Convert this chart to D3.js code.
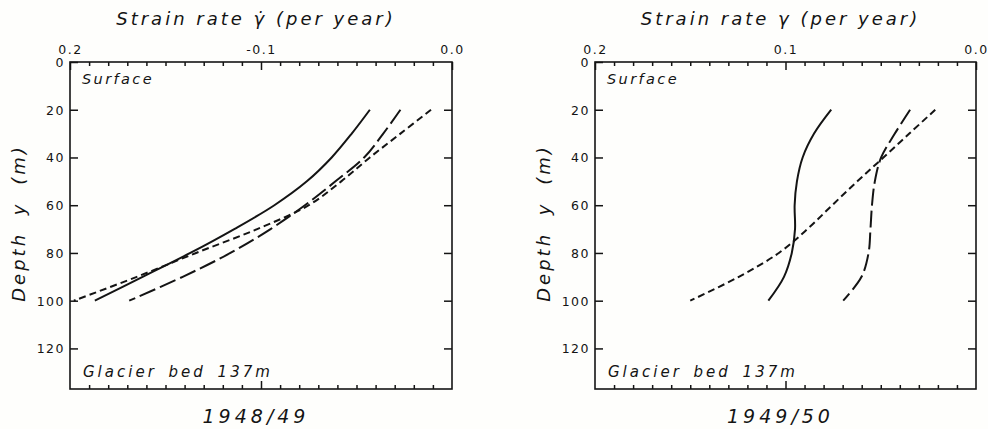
<!DOCTYPE html>
<html>
<head>
<meta charset="utf-8">
<script src="https://cdn.jsdelivr.net/npm/d3@7"></script>
<style>
body { margin: 0; background: #fefefc; }
svg text { font-family: "DejaVu Sans", sans-serif; fill: #141414; }
</style>
</head>
<body>
<svg id="chart" width="988" height="429"></svg>
<script>
var depths = [20, 30, 40, 50, 60, 70, 80, 90, 100];

// 1948/49 strain rates (per year)
var solid4849     = [-0.043, -0.0525, -0.063, -0.076, -0.093, -0.114, -0.137, -0.162, -0.187];
var longDash4849  = [-0.027, -0.036, -0.046, -0.061, -0.077, -0.095, -0.116, -0.141, -0.169];
var shortDash4849 = [-0.011, -0.027, -0.043, -0.058, -0.075, -0.102, -0.134, -0.165, -0.198];

// 1949/50 strain rates (per year)
var solid4950     = [0.076, 0.085, 0.091, 0.094, 0.0952, 0.0950, 0.0967, 0.1008, 0.109];
var longDash4950  = [0.0346, 0.0426, 0.0498, 0.0531, 0.0546, 0.0554, 0.0564, 0.0601, 0.0697];
var shortDash4950 = [0.0214, 0.035, 0.0486, 0.0623, 0.0755, 0.0885, 0.1035, 0.1245, 0.150];

var depthTicks = [0, 20, 40, 60, 80, 100, 120];
var majorTicks4849 = [-0.2, -0.1, 0.0];
var majorTicks4950 = [0.2, 0.1, 0.0];
var tickLabels4849 = ["0.2", "-0.1", "0.0"];
var tickLabels4950 = ["0.2", "0.1", "0.0"];
var titles = ["Strain rate \u03b3\u0307 (per year)", "Strain rate \u03b3 (per year)"];
var years = ["1948/49", "1949/50"];

var dashes = [null, "17,5", "7,4"];

var panels = [
  { x0: 70, x1: 452, domain: [-0.2, 0], major: majorTicks4849, labels: tickLabels4849,
    series: [solid4849, longDash4849, shortDash4849], title: titles[0], year: years[0] },
  { x0: 595, x1: 976, domain: [0.2, 0], major: majorTicks4950, labels: tickLabels4950,
    series: [solid4950, longDash4950, shortDash4950], title: titles[1], year: years[1] }
];

var frameTop = 62, frameBottom = 389;
var svg = d3.select("#chart");

var y = d3.scaleLinear().domain([0, 137]).range([frameTop, frameBottom]);

panels.forEach(function(p) {
  var x = d3.scaleLinear().domain(p.domain).range([p.x0, p.x1]);
  var g = svg.append("g");

  // minor ticks every 0.01, skipping the ends and the middle major tick
  var minor = d3.range(1, 20).filter(function(i) { return i != 10; })
    .map(function(i) { return p.domain[0] + (p.domain[1] - p.domain[0]) * i / 20; });

  var topMinor = g.append("g").attr("transform", "translate(0," + frameTop + ")")
    .call(d3.axisTop(x).tickValues(minor).tickSizeInner(-4).tickSizeOuter(0).tickFormat(""));
  var topMajor = g.append("g").attr("transform", "translate(0," + frameTop + ")")
    .call(d3.axisTop(x).tickValues(p.major).tickSizeInner(-8).tickSizeOuter(0).tickPadding(8)
      .tickFormat(function(d, i) { return p.labels[i]; }));
  var botMinor = g.append("g").attr("transform", "translate(0," + frameBottom + ")")
    .call(d3.axisBottom(x).tickValues(minor).tickSizeInner(-4).tickSizeOuter(0).tickFormat(""));
  var botMajor = g.append("g").attr("transform", "translate(0," + frameBottom + ")")
    .call(d3.axisBottom(x).tickValues([p.major[1]]).tickSizeInner(-8).tickSizeOuter(0).tickFormat(""));

  var left = g.append("g").attr("transform", "translate(" + p.x0 + ",0)")
    .call(d3.axisLeft(y).tickValues(depthTicks).tickSizeInner(-8).tickSizeOuter(0).tickPadding(5));
  var right = g.append("g").attr("transform", "translate(" + p.x1 + ",0)")
    .call(d3.axisRight(y).tickValues(depthTicks.slice(1)).tickSizeInner(-8).tickSizeOuter(0).tickFormat(""));

  [topMinor, topMajor, botMinor, botMajor, left, right].forEach(function(a) {
    a.select(".domain").remove();
    a.selectAll(".tick line").attr("stroke", "#141414").attr("stroke-width", 1.5);
    a.selectAll("text").style("font-size", "12.5px").style("letter-spacing", "1.5px")
      .style("font-family", "\"DejaVu Sans\", sans-serif").attr("fill", "#141414");
  });
  topMajor.selectAll("text").attr("dy", "0em");
  left.selectAll("text").attr("dy", "0.36em");

  // frame
  g.append("rect")
    .attr("x", p.x0).attr("y", frameTop)
    .attr("width", p.x1 - p.x0).attr("height", frameBottom - frameTop)
    .attr("fill", "none").attr("stroke", "#141414").attr("stroke-width", 1.6);

  var line = d3.line()
    .x(function(d) { return x(d[1]); })
    .y(function(d) { return y(d[0]); })
    .curve(d3.curveCatmullRom.alpha(0.5));

  p.series.forEach(function(vals, i) {
    g.append("path")
      .datum(depths.map(function(d, j) { return [d, vals[j]]; }))
      .attr("d", line)
      .attr("fill", "none")
      .attr("stroke", "#141414")
      .attr("stroke-width", 2)
      .attr("stroke-dasharray", dashes[i]);
  });

  var cx = (p.x0 + p.x1) / 2;
  g.append("text").attr("x", cx - 5).attr("y", 25)
    .attr("text-anchor", "middle").style("font-style", "italic")
    .style("font-size", "18px").style("letter-spacing", "3px")
    .text(p.title);

  g.append("text").attr("x", cx - 5).attr("y", 423)
    .attr("text-anchor", "middle").style("font-style", "italic")
    .style("font-size", "19px").style("letter-spacing", "4px")
    .text(p.year);

  g.append("text").attr("x", p.x0 + 12).attr("y", 84)
    .style("font-style", "italic").style("font-size", "14.5px").style("letter-spacing", "2.4px")
    .text("Surface");

  g.append("text").attr("x", p.x0 + 13).attr("y", 377)
    .style("font-style", "italic").style("font-size", "15px").style("letter-spacing", "3px")
    .style("word-spacing", "4px")
    .text("Glacier bed 137m");

  g.append("text")
    .attr("transform", "translate(" + (p.x0 - 45) + ",223) rotate(-90)")
    .attr("text-anchor", "middle").style("font-style", "italic")
    .style("font-size", "18px").style("letter-spacing", "3px").style("word-spacing", "8px")
    .text("Depth y (m)");
});
</script>
</body>
</html>
